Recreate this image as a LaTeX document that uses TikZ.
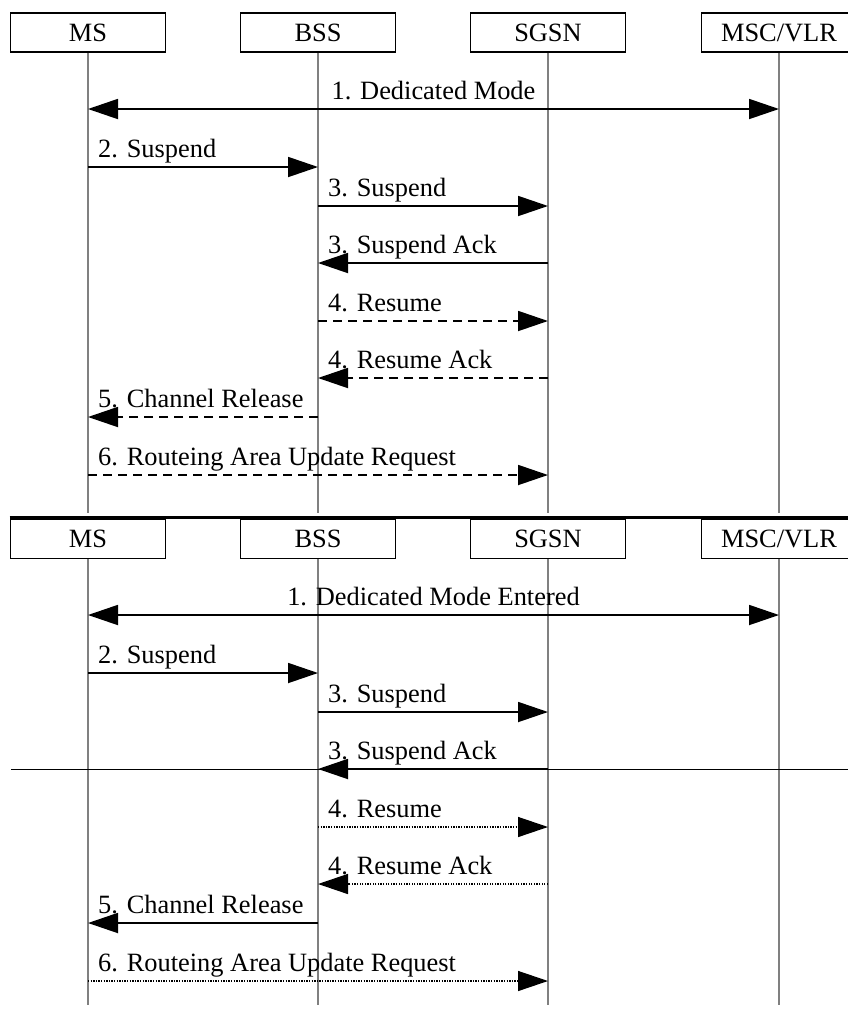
\documentclass[tikz,border=0pt]{standalone}
\usepackage{fontspec}
\setmainfont{Liberation Serif}
\usetikzlibrary{arrows.meta,calc}
\begin{document}
\begin{tikzpicture}[x=1pt,y=-1pt,
  txt/.style={font=\fontsize{26.4}{30}\selectfont},
  hdr/.style={txt,draw=black,line width=1.6pt,minimum width=155pt,minimum height=39pt,inner sep=0pt},
  life/.style={draw=black!50,line width=1.4pt},
  tip/.tip={Triangle[length=30pt,width=20pt]},
  msg/.style={line width=1.8pt,-tip},
  both/.style={line width=1.8pt,tip-tip},
  dsh/.style={dash pattern=on 9pt off 6pt},
  dotln/.style={line width=1.4pt,dash pattern=on 1.3pt off 1.3pt},
  lbl/.style={txt,anchor=base west,inner sep=0pt},
  clbl/.style={txt,anchor=base,inner sep=0pt}
]
\clip (0,0) rectangle (848,1013);

% ---------- upper chart ----------
\node[hdr] (msA)   at (88,32.5)  {MS};
\node[hdr] (bssA)  at (318,32.5) {BSS};
\node[hdr] (sgsnA) at (548,32.5) {SGSN};
\node[hdr] (mscA)  at (779,32.5) {MSC/VLR};

\foreach \n/\x in {msA/88,bssA/318,sgsnA/548,mscA/779}{
  \coordinate (\n-end) at (\x,513);
  \foreach \r/\y in {1/109,2/167,3/206,3a/263,4/321,4a/378,5/417,6/475}
    \coordinate (\n-\r) at (\x,\y);
}
\foreach \n in {msA,bssA,sgsnA,mscA}
  \draw[life] (\n.south) -- (\n-end);

\draw[both] (msA-1) -- (mscA-1);
\node[clbl] at ([yshift=10pt]$(msA-1)!0.5!(mscA-1)$) {1. Dedicated Mode};

\draw[msg] (msA-2) -- (bssA-2);
\node[lbl] at ([xshift=10pt,yshift=10pt]msA-2) {2. Suspend};

\draw[msg] (bssA-3) -- (sgsnA-3);
\node[lbl] at ([xshift=10pt,yshift=10pt]bssA-3) {3. Suspend};

\draw[msg] (sgsnA-3a) -- (bssA-3a);
\node[lbl] at ([xshift=10pt,yshift=10pt]bssA-3a) {3. Suspend Ack};

\draw[msg,dsh] (bssA-4) -- (sgsnA-4);
\node[lbl] at ([xshift=10pt,yshift=10pt]bssA-4) {4. Resume};

\draw[msg,dsh] (sgsnA-4a) -- (bssA-4a);
\node[lbl] at ([xshift=10pt,yshift=10pt]bssA-4a) {4. Resume Ack};

\draw[msg,dsh] (bssA-5) -- (msA-5);
\node[lbl] at ([xshift=10pt,yshift=10pt]msA-5) {5. Channel Release};

\draw[msg,dsh] (msA-6) -- (sgsnA-6);
\node[lbl] at ([xshift=10pt,yshift=10pt]msA-6) {6. Routeing Area Update Request};

% ---------- lower chart ----------
\node[hdr] (msB)   at (88,539)  {MS};
\node[hdr] (bssB)  at (318,539) {BSS};
\node[hdr] (sgsnB) at (548,539) {SGSN};
\node[hdr] (mscB)  at (779,539) {MSC/VLR};

% separating rule between the two charts
\draw[line width=3pt] ([yshift=1.5pt]msB.north west) -- ++(860,0);

\foreach \n/\x in {msB/88,bssB/318,sgsnB/548,mscB/779}{
  \coordinate (\n-end) at (\x,1005);
  \foreach \r/\y in {1/615,2/673,3/712,3a/769,4/827,4a/884,5/923,6/981}
    \coordinate (\n-\r) at (\x,\y);
}
\foreach \n in {msB,bssB,sgsnB,mscB}
  \draw[life] (\n.south) -- (\n-end);

% thin horizontal rule across the chart
\coordinate (ruleL) at (11,769);
\draw[line width=1pt] (ruleL) -- ++(840,0);

\draw[both] (msB-1) -- (mscB-1);
\node[clbl] at ([yshift=10pt]$(msB-1)!0.5!(mscB-1)$) {1. Dedicated Mode Entered};

\draw[msg] (msB-2) -- (bssB-2);
\node[lbl] at ([xshift=10pt,yshift=10pt]msB-2) {2. Suspend};

\draw[msg] (bssB-3) -- (sgsnB-3);
\node[lbl] at ([xshift=10pt,yshift=10pt]bssB-3) {3. Suspend};

\draw[msg] (sgsnB-3a) -- (bssB-3a);
\node[lbl] at ([xshift=10pt,yshift=10pt]bssB-3a) {3. Suspend Ack};

\draw[msg,dotln] (bssB-4) -- (sgsnB-4);
\node[lbl] at ([xshift=10pt,yshift=10pt]bssB-4) {4. Resume};

\draw[msg,dotln] (sgsnB-4a) -- (bssB-4a);
\node[lbl] at ([xshift=10pt,yshift=10pt]bssB-4a) {4. Resume Ack};

\draw[msg] (bssB-5) -- (msB-5);
\node[lbl] at ([xshift=10pt,yshift=10pt]msB-5) {5. Channel Release};

\draw[msg,dotln] (msB-6) -- (sgsnB-6);
\node[lbl] at ([xshift=10pt,yshift=10pt]msB-6) {6. Routeing Area Update Request};
\end{tikzpicture}
\end{document}
